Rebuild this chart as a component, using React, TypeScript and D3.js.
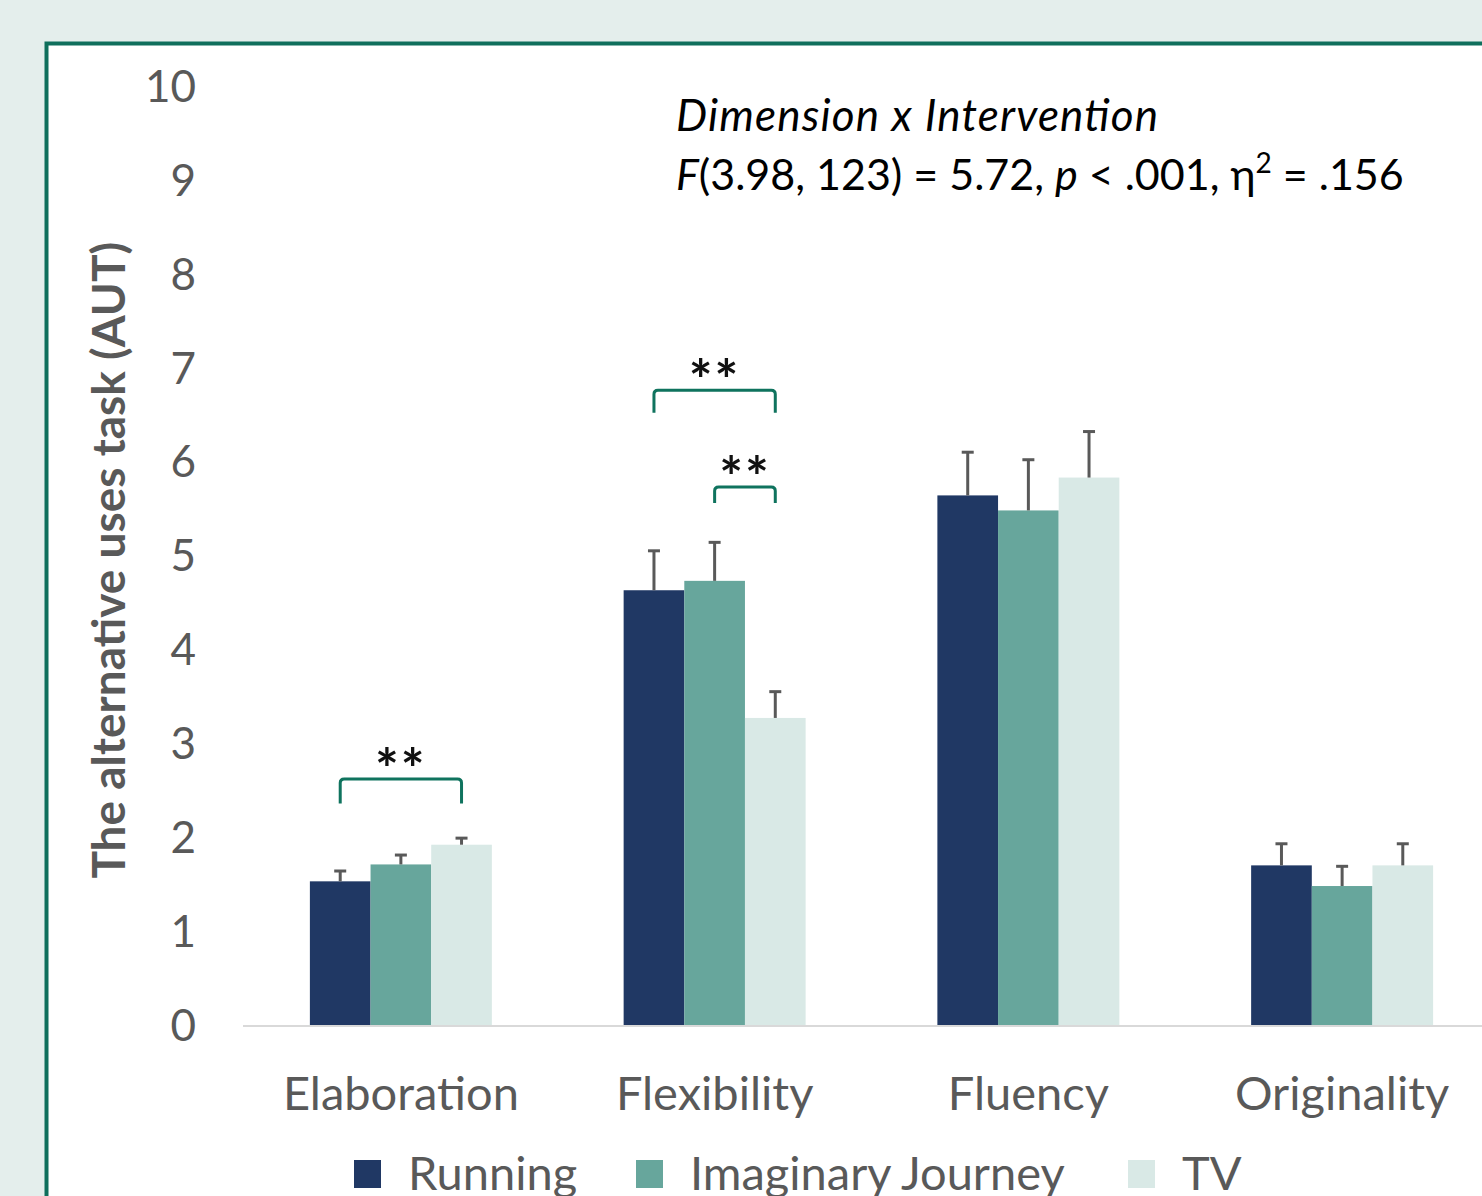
import React from 'react';
import * as d3 from 'd3';

const categories = ['Elaboration', 'Flexibility', 'Fluency', 'Originality'];
const seriesNames = ['Running', 'Imaginary Journey', 'TV'];
const seriesColors = ['#203864', '#67a69c', '#d9e9e6'];

// mean values per series, in category order
const running = [1.53, 4.63, 5.64, 1.70];
const imaginary = [1.71, 4.73, 5.48, 1.48];
const tv = [1.92, 3.27, 5.83, 1.70];
// upper error bar ends
const runningErr = [1.64, 5.05, 6.10, 1.93];
const imaginaryErr = [1.81, 5.14, 6.02, 1.69];
const tvErr = [1.99, 3.55, 6.32, 1.93];

const yTicks = [0, 1, 2, 3, 4, 5, 6, 7, 8, 9, 10];

// significance brackets: category, from series, to series, top level, leg end level
const brackets = [
  { cat: 'Elaboration', from: 0, to: 2, top: 2.62, end: 2.36 },
  { cat: 'Flexibility', from: 0, to: 2, top: 6.76, end: 6.52 },
  { cat: 'Flexibility', from: 1, to: 2, top: 5.73, end: 5.56 },
];

const W = 1482;
const H = 1196;
const font = 'Lato, "Open Sans", sans-serif';

const App: React.FC = () => {
  const values = [running, imaginary, tv];
  const errs = [runningErr, imaginaryErr, tvErr];

  const x = d3.scaleBand<string>().domain(categories).range([244, 1499]).padding(0);
  const groupW = x.bandwidth() * 0.58;
  const xs = d3.scaleBand<number>().domain([0, 1, 2]).range([0, groupW]).padding(0);
  const y = d3.scaleLinear().domain([0, 10]).range([1025, 86]);

  const barX = (c: string, s: number) => (x(c) as number) + (x.bandwidth() - groupW) / 2 + (xs(s) as number);
  const barMid = (c: string, s: number) => barX(c, s) + xs.bandwidth() / 2;

  return (
    <div style={{ position: 'absolute', left: 0, top: 0 }}>
      <svg width={W} height={H} style={{ display: 'block' }}>
        <rect x={0} y={0} width={W} height={H} fill="#e4eeec" />
        <rect x={46.5} y={43.5} width={W} height={H} fill="#ffffff" stroke="#0f6f5c" strokeWidth={4} />

        {/* y tick labels */}
        {yTicks.map((t) => (
          <text key={t} x={196} y={y(t)} dy="0.36em" textAnchor="end" fontFamily={font} fontSize={44} fill="#595959">
            {t}
          </text>
        ))}

        {/* y axis title */}
        <text
          transform={`translate(125, ${y(4.95)}) rotate(-90)`}
          textAnchor="middle"
          fontFamily={font}
          fontWeight="bold"
          fontSize={46}
          fill="#595959"
        >
          The alternative uses task (AUT)
        </text>

        {/* bars */}
        {categories.map((c, ci) =>
          seriesNames.map((_, si) => (
            <rect
              key={`${c}-${si}`}
              x={barX(c, si)}
              y={y(values[si][ci])}
              width={xs.bandwidth()}
              height={y(0) - y(values[si][ci])}
              fill={seriesColors[si]}
            />
          ))
        )}

        {/* error bars */}
        {categories.map((c, ci) =>
          seriesNames.map((_, si) => {
            const cx = barMid(c, si);
            return (
              <g key={`e-${c}-${si}`} stroke="#595959" strokeWidth={3}>
                <line x1={cx} x2={cx} y1={y(values[si][ci])} y2={y(errs[si][ci])} />
                <line x1={cx - 6} x2={cx + 6} y1={y(errs[si][ci])} y2={y(errs[si][ci])} />
              </g>
            );
          })
        )}

        {/* x axis line */}
        <line x1={243} x2={W} y1={y(0) + 1} y2={y(0) + 1} stroke="#d9d9d9" strokeWidth={2} />

        {/* category labels */}
        {categories.map((c) => (
          <text key={c} x={(x(c) as number) + x.bandwidth() / 2} y={1110} textAnchor="middle" fontFamily={font} fontSize={47} fill="#595959">
            {c}
          </text>
        ))}

        {/* significance brackets */}
        {brackets.map((b, i) => {
          const x1 = barMid(b.cat, b.from);
          const x2 = barMid(b.cat, b.to);
          const yt = y(b.top);
          const ye = y(b.end);
          const r = 4;
          return (
            <g key={`b-${i}`}>
              <path
                d={`M${x1},${ye} L${x1},${yt + r} Q${x1},${yt} ${x1 + r},${yt} L${x2 - r},${yt} Q${x2},${yt} ${x2},${yt + r} L${x2},${ye}`}
                fill="none"
                stroke="#0f735e"
                strokeWidth={3}
              />
              <text x={(x1 + x2) / 2} y={yt + 10} textAnchor="middle" fontFamily={font} fontWeight="bold" fontSize={56} letterSpacing={2} fill="#111111">
                **
              </text>
            </g>
          );
        })}

        {/* statistics annotation */}
        <text x={676} y={131} fontFamily={font} fontStyle="italic" fontSize={44} textLength={482} lengthAdjust="spacing" fill="#000000">
          Dimension x Intervention
        </text>
        <text x={676} y={190} fontFamily={font} fontSize={43} fill="#000000">
          <tspan fontStyle="italic">F</tspan>
          <tspan>(3.98, 123) = 5.72, </tspan>
          <tspan fontStyle="italic">p</tspan>
          <tspan> &lt; .001, η</tspan>
          <tspan fontSize={28} dy={-17}>2</tspan>
          <tspan dy={17}> = .156</tspan>
        </text>

        {/* legend */}
        {[354, 636, 1128].map((lx, i) => (
          <g key={seriesNames[i]}>
            <rect x={lx} y={1160} width={27} height={28} fill={seriesColors[i]} />
            <text x={lx + 54} y={1190} fontFamily={font} fontSize={47} fill="#595959">
              {seriesNames[i]}
            </text>
          </g>
        ))}
      </svg>
    </div>
  );
};

export default App;
